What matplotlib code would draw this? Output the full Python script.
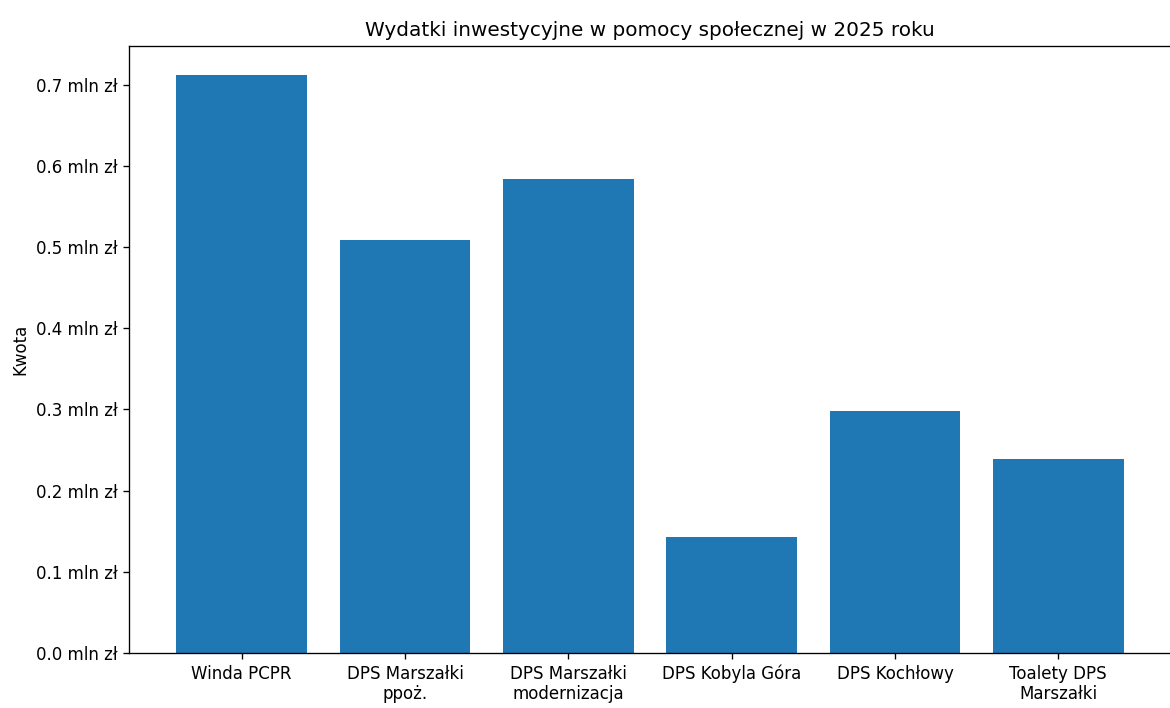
import matplotlib
matplotlib.use("Agg")
import matplotlib.pyplot as plt
from matplotlib.ticker import FuncFormatter

plt.rcParams["font.family"] = ["DejaVu Sans"]

projects = [
    "Winda PCPR",
    "DPS Marszałki\nppoż.",
    "DPS Marszałki\nmodernizacja",
    "DPS Kobyla Góra",
    "DPS Kochłowy",
    "Toalety DPS\nMarszałki",
]
amounts = [712000, 509000, 584000, 142500, 297500, 239000]

fig = plt.figure(figsize=(9.75, 5.9), dpi=120)
ax = fig.add_axes([129 / 1170, 55 / 708, 1042 / 1170, 607 / 708])
ax.bar(projects, amounts, color="#1f77b4")
ax.set_title("Wydatki inwestycyjne w pomocy społecznej w 2025 roku")
ax.set_ylabel("Kwota")
ax.yaxis.set_major_formatter(FuncFormatter(lambda v, _: f"{v / 1e6:.1f} mln zł"))

fig.savefig("out.png", dpi=120)
